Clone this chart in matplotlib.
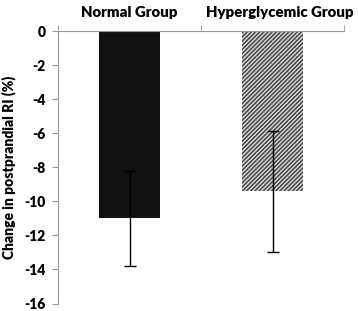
import matplotlib.pyplot as plt
from matplotlib.transforms import ScaledTranslation

groups = ["Normal Group", "Hyperglycemic Group"]
change = [-11.0, -9.4]
err = [2.8, 3.55]
yticks = [0, -2, -4, -6, -8, -10, -12, -14, -16]

plt.rcParams['font.family'] = ['Lato', 'DejaVu Sans']
plt.rcParams['hatch.linewidth'] = 1.1

fig = plt.figure(figsize=(3.58, 3.11), dpi=100)
ax = fig.add_axes([0.162, 0.024, 0.799, 0.876])

x = [1, 2]
b = ax.bar(x, change, width=0.42, color=['#111111', '#dddddd'], linewidth=0)
b[1].set_hatch('////////')
b[1].set_edgecolor('#444444')
ax.errorbar(x, change, yerr=err, fmt='none', ecolor='black', elinewidth=1, capsize=4, capthick=1)

ax.set_xlim(0.5, 2.5)
ax.set_ylim(-16, 0)
ax.set_yticks(yticks)
ax.set_yticklabels([str(t) for t in yticks], fontweight='heavy', fontsize=10)
ax.set_ylabel("Change in postprandial RI (%)", fontweight='heavy', fontsize=10, labelpad=6)

ax.xaxis.tick_top()
ax.set_xticks(x)
ax.set_xticklabels(groups, fontweight='heavy', fontsize=10.8)
ax.set_xticks([0.5, 1.5, 2.5], minor=True)
ax.tick_params(axis='x', which='major', length=0, pad=9)
ax.tick_params(axis='x', which='minor', length=4, color='#999999')
ax.tick_params(axis='y', length=4, color='#999999', pad=5)

# second group label sits a little right of its bar in the original
lbl = ax.get_xticklabels()[1]
lbl.set_transform(lbl.get_transform() + ScaledTranslation(0.07, 0, fig.dpi_scale_trans))

for s in ['right', 'bottom']:
    ax.spines[s].set_visible(False)
for s in ['left', 'top']:
    ax.spines[s].set_color('#999999')

fig.savefig("out.png", dpi=100)
